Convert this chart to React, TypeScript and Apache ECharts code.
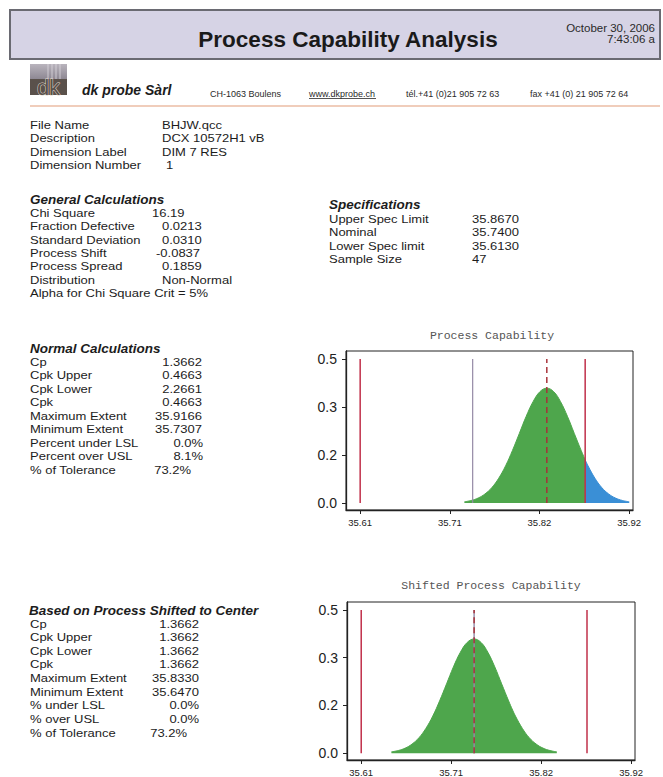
import React, { useEffect, useRef } from "react";
import * as echarts from "echarts";

const REPORT_TITLE = "Process Capability Analysis";
const REPORT_DATE = ["October 30, 2006", "7:43:06 a"];
const COMPANY = "dk probe Sàrl";
const COMPANY_INFO = ["CH-1063 Boulens", "www.dkprobe.ch", "tél.+41 (0)21 905 72 63", "fax +41 (0) 21 905 72 64"];

const FILE_LABELS = ["File Name", "Description", "Dimension Label", "Dimension Number"];
const FILE_VALUES = ["BHJW.qcc", "DCX 10572H1 vB", "DIM 7 RES", "1"];

const GENERAL_TITLE = "General Calculations";
const GENERAL_LABELS = ["Chi Square", "Fraction Defective", "Standard Deviation", "Process Shift", "Process Spread", "Distribution"];
const GENERAL_VALUES = ["16.19", "0.0213", "0.0310", "-0.0837", "0.1859", "Non-Normal"];
const GENERAL_NOTE = "Alpha for Chi Square Crit = 5%";

const SPEC_TITLE = "Specifications";
const SPEC_LABELS = ["Upper Spec Limit", "Nominal", "Lower Spec limit", "Sample Size"];
const SPEC_VALUES = ["35.8670", "35.7400", "35.6130", "47"];

const NORMAL_TITLE = "Normal Calculations";
const NORMAL_LABELS = ["Cp", "Cpk Upper", "Cpk Lower", "Cpk", "Maximum Extent", "Minimum Extent", "Percent under LSL", "Percent over USL", "% of Tolerance"];
const NORMAL_VALUES = ["1.3662", "0.4663", "2.2661", "0.4663", "35.9166", "35.7307", "0.0%", "8.1%", "73.2%"];

const SHIFTED_TITLE = "Based on Process Shifted to Center";
const SHIFTED_LABELS = ["Cp", "Cpk Upper", "Cpk Lower", "Cpk", "Maximum Extent", "Minimum Extent", "% under LSL", "% over USL", "% of Tolerance"];
const SHIFTED_VALUES = ["1.3662", "1.3662", "1.3662", "1.3662", "35.8330", "35.6470", "0.0%", "0.0%", "73.2%"];

const CHART_TITLES = ["Process Capability", "Shifted Process Capability"];

const LSL = 35.613;
const NOMINAL = 35.74;
const USL = 35.867;
const PROCESS_MEAN = 35.8237;
const SHIFTED_MEAN = 35.74;

// offsets (from the mean) and heights of the plotted distribution curve
const CURVE_OFFSETS = [-0.093, -0.0853, -0.0775, -0.0698, -0.062, -0.0543, -0.0465, -0.0388, -0.031, -0.0233, -0.0155, -0.0078, 0, 0.0078, 0.0155, 0.0233, 0.031, 0.0388, 0.0433, 0.0465, 0.0543, 0.062, 0.0698, 0.0775, 0.0853, 0.093];
const CURVE_DENSITY = [0.0044, 0.0091, 0.0175, 0.0317, 0.054, 0.0863, 0.1295, 0.1826, 0.242, 0.3011, 0.3521, 0.3867, 0.3989, 0.3867, 0.3521, 0.3011, 0.242, 0.1826, 0.1504, 0.1295, 0.0863, 0.054, 0.0317, 0.0175, 0.0091, 0.0044];

const X_TICKS = [35.613, 35.7142, 35.8154, 35.9166];
const Y_TICKS = [0, 0.1667, 0.3333, 0.5];
const LINE_TOP = 0.5;

// ---------- styling ----------
const FONT = '"Liberation Sans", Arial, Helvetica, sans-serif';
const MONO = '"Liberation Mono", "Courier New", monospace';
const INK = "#1c1c1c";
const GREEN = "#4ea64c";
const BLUE = "#3a8fd6";
const SPEC_RED = "#c0304a";
const NOM_GRAY = "#948aa6";
const MEAN_RED = "#a8323a";
const BODY = 13;
const SQUEEZE = 0.88;

type TxtOpt = { size?: number; weight?: string; style?: string; color?: string; align?: string; family?: string; sy?: number };
function txt(x: number, y: number, text: string, o: TxtOpt = {}) {
  return {
    type: "text",
    x,
    y,
    scaleY: o.sy ?? 1,
    silent: true,
    style: {
      text,
      fontSize: o.size ?? BODY,
      fontFamily: o.family ?? FONT,
      fontWeight: o.weight ?? "normal",
      fontStyle: o.style ?? "normal",
      fill: o.color ?? INK,
      align: o.align ?? "left",
      verticalAlign: "middle",
    },
  };
}
const row = (x: number, y: number, text: string, o: TxtOpt = {}) => txt(x, y, text, { sy: SQUEEZE, ...o });
const head = (x: number, y: number, text: string) => txt(x, y, text, { size: 13.5, weight: "bold", style: "italic", sy: SQUEEZE });

function buildGraphic() {
  const g: any[] = [];
  // header band
  g.push({ type: "rect", shape: { x: 10, y: 10, width: 650, height: 49 }, style: { fill: "#d6d3e5", stroke: "#6a6a72", lineWidth: 2 }, silent: true });
  g.push(txt(348, 39, REPORT_TITLE, { size: 22.5, weight: "bold", align: "center", color: "#1a1a1a" }));
  g.push(txt(655, 28, REPORT_DATE[0], { size: 11.5, align: "right", color: "#2a2a2a" }));
  g.push(txt(655, 38.5, REPORT_DATE[1], { size: 11.5, align: "right", color: "#2a2a2a" }));

  // logo
  g.push({
    type: "rect", shape: { x: 30, y: 64, width: 37, height: 15 }, silent: true,
    style: { fill: new echarts.graphic.LinearGradient(0, 0, 0, 1, [{ offset: 0, color: "#b9b4bd" }, { offset: 1, color: "#8e8893" }]) },
  });
  [48, 52, 56, 60].forEach((xx) =>
    g.push({ type: "line", shape: { x1: xx, y1: 64, x2: xx, y2: 79 }, style: { stroke: "#dcd8de", lineWidth: 0.8 }, silent: true })
  );
  g.push({ type: "rect", shape: { x: 30, y: 79, width: 37, height: 16 }, style: { fill: "#5a514b" }, silent: true });
  g.push({
    type: "text", x: 48.5, y: 87.5, silent: true,
    style: { text: "dk", fontSize: 22, fontFamily: FONT, fontWeight: "normal", fill: "#5a514b", stroke: "#e2d9cc", lineWidth: 1, align: "center", verticalAlign: "middle" },
  });

  // company line
  g.push(txt(82, 90, COMPANY, { size: 14, weight: "bold", style: "italic" }));
  const infoX = [210, 309, 406, 530];
  COMPANY_INFO.forEach((s, i) => g.push(txt(infoX[i], 94, s, { size: 9, color: "#2a2a2a" })));
  g.push({ type: "line", shape: { x1: 309, y1: 98.5, x2: 376, y2: 98.5 }, style: { stroke: "#2a2a2a", lineWidth: 0.8 }, silent: true });
  g.push({ type: "line", shape: { x1: 30, y1: 106, x2: 660, y2: 106 }, style: { stroke: "#ebbca4", lineWidth: 1.5 }, silent: true });

  // file info
  FILE_LABELS.forEach((s, i) => {
    const y = 125 + i * 13.4;
    g.push(row(30, y, s));
    g.push(row(i === 3 ? 166 : 162, y, FILE_VALUES[i]));
  });

  // general calculations
  g.push(head(30, 199.3, GENERAL_TITLE));
  const genX = [152, 162, 162, 156, 162, 162];
  GENERAL_LABELS.forEach((s, i) => {
    const y = 212.9 + i * 13.45;
    g.push(row(30, y, s));
    g.push(row(genX[i], y, GENERAL_VALUES[i]));
  });
  g.push(row(30, 212.9 + 6 * 13.45, GENERAL_NOTE));

  // specifications
  g.push(head(329, 205, SPEC_TITLE));
  SPEC_LABELS.forEach((s, i) => {
    const y = 219 + i * 13.45;
    g.push(row(329, y, s));
    g.push(row(472, y, SPEC_VALUES[i]));
  });

  // normal calculations
  g.push(head(30, 348.3, NORMAL_TITLE));
  const normRight = [202, 202, 202, 202, 202, 202, 203, 203, 191];
  NORMAL_LABELS.forEach((s, i) => {
    const y = 362 + i * 13.5;
    g.push(row(30, y, s));
    g.push(row(normRight[i], y, NORMAL_VALUES[i], { align: "right" }));
  });

  // shifted calculations
  g.push(head(29, 610.3, SHIFTED_TITLE));
  const shRight = [199, 199, 199, 199, 199, 199, 199, 199, 187];
  SHIFTED_LABELS.forEach((s, i) => {
    const y = 623.8 + i * 13.65;
    g.push(row(30, y, s));
    g.push(row(shRight[i], y, SHIFTED_VALUES[i], { align: "right" }));
  });

  // chart titles
  g.push(txt(492, 335, CHART_TITLES[0], { family: MONO, size: 11.5, align: "center", color: "#555" }));
  g.push(txt(491, 585, CHART_TITLES[1], { family: MONO, size: 11.5, align: "center", color: "#555" }));
  return g;
}

function curvePoints(mean: number) {
  return CURVE_OFFSETS.map((o, i) => [Math.round((mean + o) * 10000) / 10000, CURVE_DENSITY[i]]);
}

function areaSeries(data: number[][], gi: number, color: string) {
  return {
    type: "line",
    xAxisIndex: gi,
    yAxisIndex: gi,
    data,
    smooth: 0.4,
    symbol: "none",
    silent: true,
    lineStyle: { color, width: 1 },
    areaStyle: { color, opacity: 1 },
    z: 2,
  };
}

function vline(x: number, gi: number, color: string, width: number, type: any = "solid") {
  return {
    type: "line",
    xAxisIndex: gi,
    yAxisIndex: gi,
    data: [[x, 0], [x, LINE_TOP]],
    symbol: "none",
    silent: true,
    lineStyle: { color, width, type },
    z: 5,
  };
}

function buildOption() {
  const pts1 = curvePoints(PROCESS_MEAN);
  const green1 = pts1.filter((p) => p[0] <= USL + 1e-6);
  const blue1 = pts1.filter((p) => p[0] >= USL - 1e-6);
  const pts2 = curvePoints(SHIFTED_MEAN);

  const axisX = (gi: number) => ({
    type: "value",
    gridIndex: gi,
    min: 35.597,
    max: 35.921,
    axisLine: { show: true, onZero: false, lineStyle: { color: "#222", width: 1.3 } },
    axisTick: { show: true, length: 4, inside: false, customValues: X_TICKS, lineStyle: { color: "#222" } },
    axisLabel: { customValues: X_TICKS, formatter: (v: number) => v.toFixed(2), fontSize: 9.5, fontFamily: FONT, color: "#222", margin: 7 },
    splitLine: { show: false },
  });
  const axisY = (gi: number) => ({
    type: "value",
    gridIndex: gi,
    min: -0.024,
    max: 0.528,
    axisLine: { show: true, onZero: false, lineStyle: { color: "#222", width: 1.3 } },
    axisTick: { show: true, length: 4, inside: false, customValues: Y_TICKS, lineStyle: { color: "#222" } },
    axisLabel: { customValues: Y_TICKS, formatter: (v: number) => v.toFixed(1), fontSize: 14, fontFamily: FONT, color: "#222", margin: 9 },
    splitLine: { show: false },
  });

  return {
    animation: false,
    backgroundColor: "#ffffff",
    graphic: buildGraphic(),
    grid: [
      { left: 346, top: 351, width: 287, height: 159, show: true, borderColor: "#222", borderWidth: 1, backgroundColor: "transparent", containLabel: false },
      { left: 347, top: 602, width: 288, height: 158, show: true, borderColor: "#222", borderWidth: 1, backgroundColor: "transparent", containLabel: false },
    ],
    xAxis: [axisX(0), axisX(1)],
    yAxis: [axisY(0), axisY(1)],
    series: [
      areaSeries(green1, 0, GREEN),
      areaSeries(blue1, 0, BLUE),
      vline(LSL, 0, SPEC_RED, 1.5),
      vline(NOMINAL, 0, NOM_GRAY, 1.2),
      vline(PROCESS_MEAN, 0, MEAN_RED, 1.5, [6, 4]),
      vline(USL, 0, SPEC_RED, 1.5),
      areaSeries(pts2, 1, GREEN),
      vline(LSL, 1, SPEC_RED, 1.5),
      vline(NOMINAL, 1, NOM_GRAY, 1.4),
      vline(SHIFTED_MEAN, 1, MEAN_RED, 1.5, [6, 4]),
      vline(USL, 1, SPEC_RED, 1.5),
    ],
  };
}

export default function App() {
  const ref = useRef<HTMLDivElement>(null);
  useEffect(() => {
    if (!ref.current) return;
    const chart = echarts.init(ref.current, null, { renderer: "svg" });
    chart.setOption(buildOption() as any);
    return () => chart.dispose();
  }, []);
  return (
    <div
      ref={ref}
      style={{ position: "absolute", left: 0, top: 0, width: 663, height: 777, background: "#fff" }}
    />
  );
}
